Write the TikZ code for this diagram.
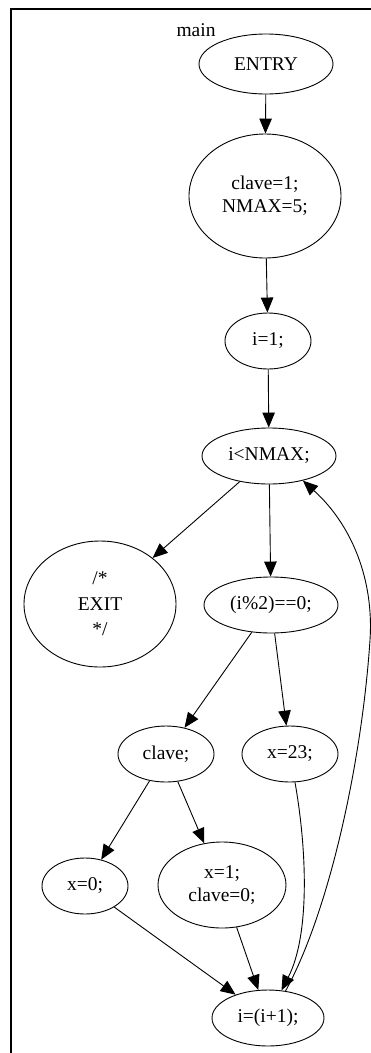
\documentclass[tikz,border=0pt]{standalone}
\usepackage{fontspec}
\setmainfont{Liberation Serif}
\usetikzlibrary{arrows.meta,shapes.geometric}
\begin{document}
\begin{tikzpicture}[x=1pt,y=-1pt,
  every node/.style={font=\fontsize{19.5pt}{23pt}\selectfont},
  blk/.style={draw,ellipse,line width=0.9pt,inner sep=0pt,align=center},
  edge/.style={draw,line width=0.9pt,-{Triangle[length=15pt,width=12.5pt]}}]
\useasboundingbox (0,0) rectangle (371,1053);
% frame of the cluster
\draw[line width=1.3pt] (11,1053) -- (11,9) -- (371,9);
\node (lbl) at (196,30) {main};
% statements
\node[blk,minimum width=134pt,minimum height=60pt] (entry) at (266,64) {ENTRY};
\node[blk,minimum width=152pt,minimum height=124pt] (init) at (265,196) {clave=1;\\NMAX=5;};
\node[blk,minimum width=86pt,minimum height=56pt] (ione) at (268,341) {i=1;};
\node[blk,minimum width=134pt,minimum height=56pt] (cond) at (269,456) {i<NMAX;};
\node[blk,minimum width=152pt,minimum height=126pt,font=\fontsize{19.5pt}{25.5pt}\selectfont] (exit) at (100,604) {/*\\EXIT\\*/};
\node[blk,minimum width=134pt,minimum height=56pt] (mod) at (271,605) {(i\%2)==0;};
\node[blk,minimum width=96pt,minimum height=56pt] (clv) at (166,754) {clave;};
\node[blk,minimum width=96pt,minimum height=56pt] (x23) at (290,754) {x=23;};
\node[blk,minimum width=86pt,minimum height=56pt] (xzero) at (85,886) {x=0;};
\node[blk,minimum width=128pt,minimum height=86pt] (xone) at (222,885) {x=1;\\clave=0;};
\node[blk,minimum width=112pt,minimum height=56pt] (inc) at (268,1018) {i=(i+1);};
% control flow
\draw[edge] (entry) -- (init);
\draw[edge] (init) -- (ione);
\draw[edge] (ione) -- (cond);
\draw[edge] (cond) -- (exit);
\draw[edge] (cond) -- (mod);
\draw[edge] (mod) -- (clv);
\draw[edge] (mod) -- (x23);
\draw[edge] (clv) -- (xzero);
\draw[edge] (clv) -- (xone);
\draw[edge] (xzero) -- (inc);
\draw[edge] (xone) -- (inc);
\draw[edge] (x23.-80) .. controls (307,850) and (310,935) .. (inc.64);
% loop back edge
\draw[edge] (inc.57) .. controls (330,910) and (362,760) .. (370,640)
  .. controls (374,580) and (352,525) .. (cond.-36);
\end{tikzpicture}
\end{document}
